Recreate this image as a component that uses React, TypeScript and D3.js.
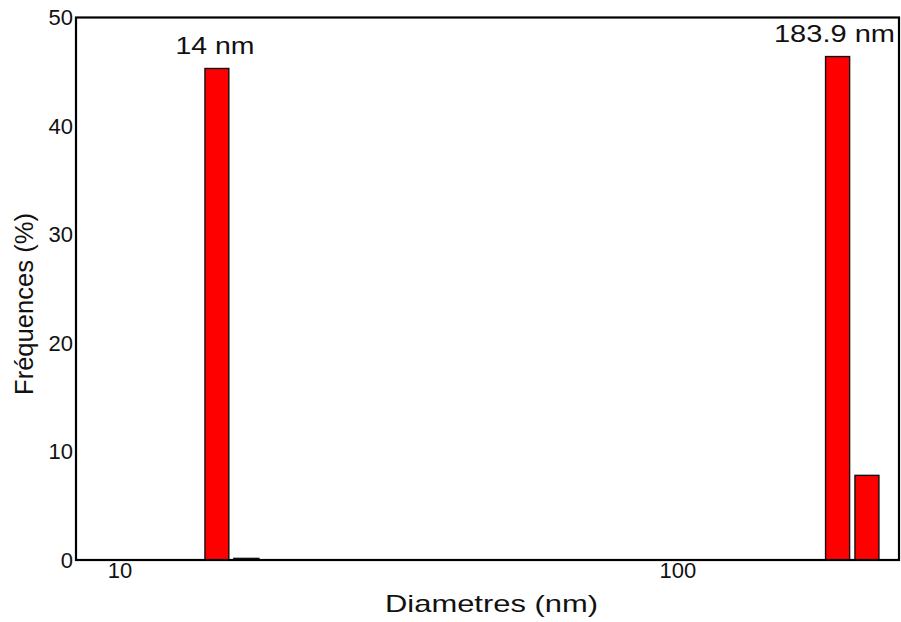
import React from "react";
import * as d3 from "d3";

// Data
const binStart = [14.2, 16.0, 183.9, 207.6];
const binEnd = [15.67, 17.74, 203.1, 229.2];
const frequencies = [45.3, 0.15, 46.4, 7.8];

const peakLabels = ["14 nm", "183.9 nm"];
const peakLabelX = [14.8, 190.8];
const peakLabelY = [46.65, 47.7];

const yTicks = [0, 10, 20, 30, 40, 50];
const xTicks = [10, 100];
const xDomain = [8.34, 249];
const yDomain = [0, 50];

const xTitle = "Diametres (nm)";
const yTitle = "Fréquences (%)";

const W = 901;
const H = 622;
const M = { left: 76, right: 2, top: 17.5, bottom: 62 };

export default function App() {
  const x = d3.scaleLog().domain(xDomain).range([M.left, W - M.right]);
  const y = d3.scaleLinear().domain(yDomain).range([H - M.bottom, M.top]);
  const font = "'Liberation Sans', Arial, sans-serif";

  return (
    <svg
      width={W}
      height={H}
      style={{ position: "absolute", left: 0, top: 0, background: "#fff" }}
      fontFamily={font}
    >
      {binStart.map((s, i) => (
        <rect
          key={i}
          x={x(s)}
          y={y(frequencies[i])}
          width={x(binEnd[i]) - x(s)}
          height={y(0) - y(frequencies[i])}
          fill="#ff0000"
          stroke="#111"
          strokeWidth={1.4}
        />
      ))}
      <rect
        x={M.left}
        y={M.top}
        width={W - M.right - M.left}
        height={H - M.bottom - M.top}
        fill="none"
        stroke="#000"
        strokeWidth={2.2}
      />
      {yTicks.map((t) => (
        <text
          key={t}
          x={M.left - 3}
          y={y(t)}
          dy="0.36em"
          textAnchor="end"
          fontSize={22}
          fill="#111"
        >
          {t}
        </text>
      ))}
      {xTicks.map((t) => (
        <text
          key={t}
          x={x(t)}
          y={578}
          textAnchor="middle"
          fontSize={22}
          fill="#111"
        >
          {t}
        </text>
      ))}
      {peakLabels.map((l, i) => (
        <text
          key={l}
          x={x(peakLabelX[i])}
          y={y(peakLabelY[i])}
          textAnchor="middle"
          fontSize={24}
          fill="#111"
          textLength={i === 0 ? 79 : 121}
          lengthAdjust="spacingAndGlyphs"
        >
          {l}
        </text>
      ))}
      <text
        x={(M.left + W - M.right) / 2 + 4}
        y={612}
        textAnchor="middle"
        fontSize={24}
        fill="#111"
        textLength={213}
        lengthAdjust="spacingAndGlyphs"
      >
        {xTitle}
      </text>
      <text
        transform={`translate(33,304) rotate(-90)`}
        textAnchor="middle"
        fontSize={26}
        fill="#111"
        textLength={182}
        lengthAdjust="spacingAndGlyphs"
      >
        {yTitle}
      </text>
    </svg>
  );
}
